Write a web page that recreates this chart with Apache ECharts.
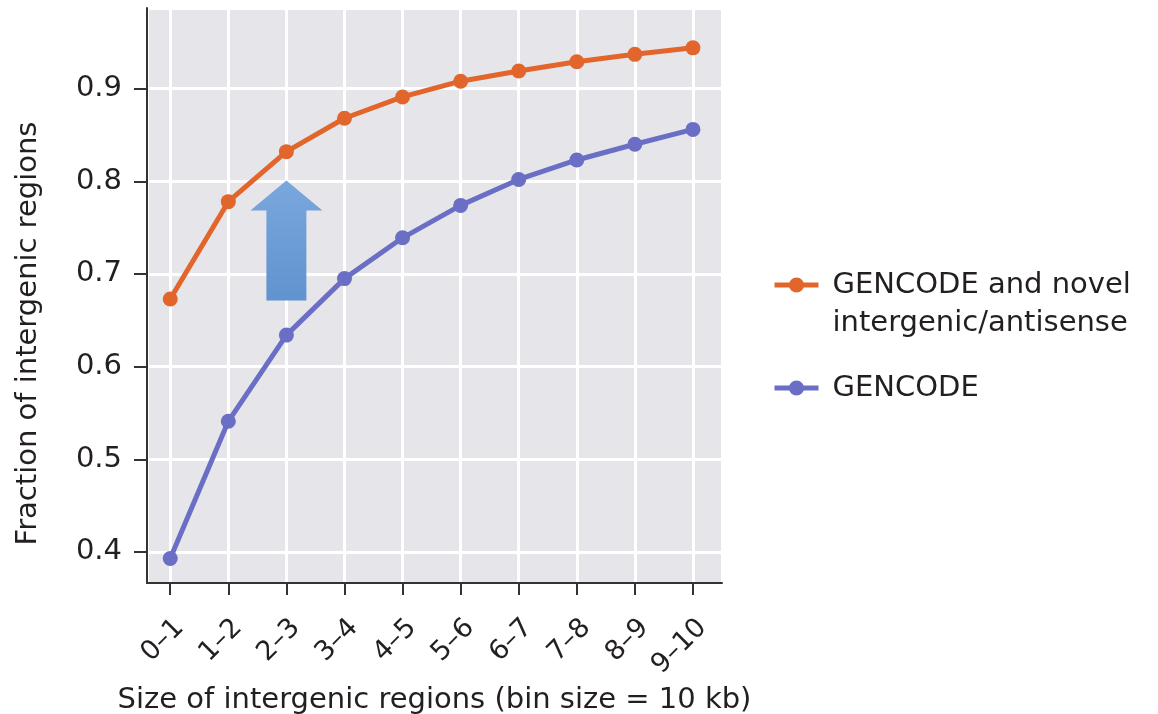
<!DOCTYPE html>
<html><head><meta charset="utf-8">
<script src="https://cdn.jsdelivr.net/npm/echarts@6/dist/echarts.min.js"></script>
<style>html,body{margin:0;padding:0;background:#fff}#c{width:1158px;height:714px}</style>
</head><body><div id="c"></div>
<script>
const categories = ['0–1','1–2','2–3','3–4','4–5','5–6','6–7','7–8','8–9','9–10'];
const novelValues = [0.673,0.778,0.832,0.868,0.891,0.908,0.919,0.929,0.937,0.944];
const gencodeValues = [0.393,0.541,0.634,0.695,0.739,0.774,0.802,0.823,0.840,0.856];
const seriesNames = ['GENCODE and novel intergenic/antisense','GENCODE'];
const arrowAt = ['2–3', 0.736];

const txt = '#231f20';
const font = 'DejaVu Sans, sans-serif';
const toPairs = vals => vals.map((v, i) => [i, v]);
const chart = echarts.init(document.getElementById('c'), null, {renderer:'canvas'});
chart.setOption({
  animation:false,
  backgroundColor:'#fff',
  grid:{left:147, width:575, top:8, height:575, show:true, backgroundColor:'#e6e6ea', borderWidth:0,
        outerBoundsMode:'none', containLabel:false},
  legend:{
    orient:'vertical', left:772, top:228, padding:0, itemWidth:44, itemHeight:19, itemGap:27,
    lineStyle:{width:5},
    textStyle:{fontSize:29, color:txt, fontFamily:font, lineHeight:38, padding:[0,0,0,9]},
    formatter:function(n){ return n===seriesNames[0] ? '\nGENCODE and novel\nintergenic/antisense' : n; },
    data:seriesNames
  },
  xAxis:{
    type:'value', min:-0.4, max:9.5, splitNumber:10,
    name:'Size of intergenic regions (bin size = 10 kb)', nameLocation:'middle', nameGap:98,
    nameTextStyle:{fontSize:29, color:txt, fontFamily:font},
    axisLine:{onZero:false, lineStyle:{color:'#333', width:2}},
    axisTick:{length:12, lineStyle:{color:'#333', width:2}},
    axisLabel:{rotate:45, fontSize:27, color:txt, fontFamily:font, margin:31, verticalAlign:'top',
      showMinLabel:false, showMaxLabel:false,
      formatter:function(v){ return Number.isInteger(v) && categories[v] !== undefined ? categories[v] : ''; }},
    splitLine:{show:true, lineStyle:{color:'#fff', width:3}}
  },
  yAxis:{
    type:'value', min:0.3665, max:0.987,
    name:'Fraction of intergenic regions', nameLocation:'middle', nameGap:104,
    nameTextStyle:{fontSize:29, color:txt, fontFamily:font, padding:[0,76,0,0]},
    axisLine:{show:true, onZero:false, lineStyle:{color:'#333', width:2}},
    axisTick:{show:true, length:13, lineStyle:{color:'#333', width:2}},
    axisLabel:{fontSize:29, color:txt, fontFamily:font, margin:25, showMinLabel:false, showMaxLabel:false,
      formatter:function(v){return v.toFixed(1);}},
    splitLine:{show:true, lineStyle:{color:'#fff', width:3}}
  },
  series:[
    {name:seriesNames[0], type:'line', data:toPairs(novelValues), symbol:'circle', symbolSize:15,
     itemStyle:{color:'#e2662b'}, lineStyle:{color:'#e2662b', width:5},
     markPoint:{silent:true, symbol:'path://M36,0 L72,30 L56,30 L56,120 L16,120 L16,30 L0,30 Z',
       symbolSize:[72,120], label:{show:false},
       itemStyle:{color:{type:'linear',x:0,y:0,x2:0,y2:1,colorStops:[{offset:0,color:'#7aa7dd'},{offset:1,color:'#6193cf'}]}},
       data:[{coord:[categories.indexOf(arrowAt[0]), arrowAt[1]]}]}},
    {name:seriesNames[1], type:'line', data:toPairs(gencodeValues), symbol:'circle', symbolSize:15,
     itemStyle:{color:'#6a6fc5'}, lineStyle:{color:'#6a6fc5', width:5}}
  ]
});
</script></body></html>
